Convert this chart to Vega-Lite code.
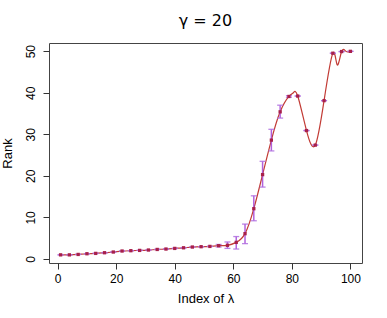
{
  "$schema": "https://vega.github.io/schema/vega-lite/v6.json",
  "width": 313,
  "height": 220,
  "autosize": {"type": "none"},
  "padding": {"left": 49, "top": 43, "right": 25, "bottom": 55},
  "background": "white",
  "config": {
    "font": "Liberation Sans",
    "view": {"stroke": "#444", "strokeWidth": 1},
    "axis": {"grid": false, "domain": false, "tickColor": "#333", "tickSize": 6, "labelFontSize": 12, "labelColor": "#000", "titleFontSize": 13, "titleFontWeight": "normal", "titleColor": "#000", "labelFont": "Liberation Sans", "titleFont": "Liberation Sans"}
  },
  "title": {"text": "γ = 20", "fontSize": 16, "fontWeight": "normal", "font": "DejaVu Sans", "offset": 14, "color": "#000"},
  "datasets": {
    "pts": [
      {"idx": 1, "rank": 1.0, "lo": 1.0, "hi": 1.0},
      {"idx": 4, "rank": 1.0, "lo": 1.0, "hi": 1.0},
      {"idx": 7, "rank": 1.1, "lo": 1.1, "hi": 1.1},
      {"idx": 10, "rank": 1.27, "lo": 1.27, "hi": 1.27},
      {"idx": 13, "rank": 1.35, "lo": 1.35, "hi": 1.35},
      {"idx": 16, "rank": 1.51, "lo": 1.51, "hi": 1.51},
      {"idx": 19, "rank": 1.68, "lo": 1.68, "hi": 1.68},
      {"idx": 22, "rank": 1.92, "lo": 1.92, "hi": 1.92},
      {"idx": 25, "rank": 2.0, "lo": 2.0, "hi": 2.0},
      {"idx": 28, "rank": 2.07, "lo": 2.07, "hi": 2.07},
      {"idx": 31, "rank": 2.16, "lo": 2.16, "hi": 2.16},
      {"idx": 34, "rank": 2.3, "lo": 2.3, "hi": 2.3},
      {"idx": 37, "rank": 2.4, "lo": 2.4, "hi": 2.4},
      {"idx": 40, "rank": 2.55, "lo": 2.55, "hi": 2.55},
      {"idx": 43, "rank": 2.7, "lo": 2.7, "hi": 2.7},
      {"idx": 46, "rank": 2.88, "lo": 2.88, "hi": 2.88},
      {"idx": 49, "rank": 2.96, "lo": 2.96, "hi": 2.96},
      {"idx": 52, "rank": 3.03, "lo": 3.03, "hi": 3.03},
      {"idx": 55, "rank": 3.2, "lo": 2.9, "hi": 3.5},
      {"idx": 58, "rank": 3.3, "lo": 2.55, "hi": 4.1},
      {"idx": 61, "rank": 4.0, "lo": 2.4, "hi": 5.4},
      {"idx": 64, "rank": 6.1, "lo": 3.7, "hi": 8.4},
      {"idx": 67, "rank": 12.1, "lo": 9.2, "hi": 15.2},
      {"idx": 70, "rank": 20.3, "lo": 17.3, "hi": 23.5},
      {"idx": 73, "rank": 28.6, "lo": 26.0, "hi": 31.2},
      {"idx": 76, "rank": 35.4, "lo": 33.9, "hi": 37.0},
      {"idx": 79, "rank": 39.1, "lo": 38.9, "hi": 39.3},
      {"idx": 82, "rank": 39.2, "lo": 39.2, "hi": 39.2},
      {"idx": 85, "rank": 30.9, "lo": 30.9, "hi": 30.9},
      {"idx": 88, "rank": 27.4, "lo": 27.4, "hi": 27.4},
      {"idx": 91, "rank": 38.1, "lo": 38.1, "hi": 38.1},
      {"idx": 94, "rank": 49.5, "lo": 49.5, "hi": 49.5},
      {"idx": 97, "rank": 49.9, "lo": 49.9, "hi": 49.9},
      {"idx": 100, "rank": 49.95, "lo": 49.95, "hi": 49.95}
    ],
    "curve": [
      {"idx": 1, "rank": 1.0},
      {"idx": 4, "rank": 1.0},
      {"idx": 7, "rank": 1.1},
      {"idx": 10, "rank": 1.27},
      {"idx": 13, "rank": 1.35},
      {"idx": 16, "rank": 1.51},
      {"idx": 19, "rank": 1.68},
      {"idx": 22, "rank": 1.92},
      {"idx": 25, "rank": 2.0},
      {"idx": 28, "rank": 2.07},
      {"idx": 31, "rank": 2.16},
      {"idx": 34, "rank": 2.3},
      {"idx": 37, "rank": 2.4},
      {"idx": 40, "rank": 2.55},
      {"idx": 43, "rank": 2.7},
      {"idx": 46, "rank": 2.88},
      {"idx": 49, "rank": 2.96},
      {"idx": 52, "rank": 3.03},
      {"idx": 55, "rank": 3.2},
      {"idx": 58, "rank": 3.3},
      {"idx": 61, "rank": 4.0},
      {"idx": 64, "rank": 6.1},
      {"idx": 67, "rank": 12.1},
      {"idx": 70, "rank": 20.3},
      {"idx": 73, "rank": 28.6},
      {"idx": 76, "rank": 35.4},
      {"idx": 79, "rank": 39.1},
      {"idx": 80.5, "rank": 40.0},
      {"idx": 82, "rank": 39.2},
      {"idx": 85, "rank": 30.9},
      {"idx": 88, "rank": 27.4},
      {"idx": 91, "rank": 38.1},
      {"idx": 94, "rank": 49.5},
      {"idx": 95.5, "rank": 46.7},
      {"idx": 97, "rank": 49.9},
      {"idx": 98.5, "rank": 49.95},
      {"idx": 100, "rank": 49.95}
    ]
  },
  "layer": [
    {
      "data": {"name": "curve"},
      "mark": {"type": "line", "interpolate": "natural", "color": "#C23B35", "strokeWidth": 1.2},
      "encoding": {
        "x": {"field": "idx", "type": "quantitative", "scale": {"domain": [-2.96, 103.96], "nice": false, "zero": false}, "axis": {"values": [0, 20, 40, 60, 80, 100], "title": "Index of  λ", "labelPadding": 4, "titlePadding": 8}},
        "y": {"field": "rank", "type": "quantitative", "scale": {"domain": [-0.96, 51.96], "nice": false, "zero": false}, "axis": {"values": [0, 10, 20, 30, 40, 50], "title": "Rank", "labelAngle": -90, "labelPadding": 6, "titlePadding": 10}}
      }
    },
    {
      "data": {"name": "pts"},
      "mark": {"type": "rule", "color": "#A347D6", "strokeWidth": 1.5, "opacity": 0.85},
      "encoding": {
        "x": {"field": "idx", "type": "quantitative"},
        "y": {"field": "lo", "type": "quantitative"},
        "y2": {"field": "hi"}
      }
    },
    {
      "data": {"name": "pts"},
      "mark": {"type": "tick", "orient": "horizontal", "color": "#B070E0", "size": 6, "thickness": 1.3, "opacity": 0.85},
      "encoding": {
        "x": {"field": "idx", "type": "quantitative"},
        "y": {"field": "lo", "type": "quantitative"}
      }
    },
    {
      "data": {"name": "pts"},
      "mark": {"type": "tick", "orient": "horizontal", "color": "#B070E0", "size": 6, "thickness": 1.3, "opacity": 0.85},
      "encoding": {
        "x": {"field": "idx", "type": "quantitative"},
        "y": {"field": "hi", "type": "quantitative"}
      }
    },
    {
      "data": {"name": "pts"},
      "mark": {"type": "point", "filled": true, "shape": "square", "color": "#A8204A", "size": 11, "opacity": 1},
      "encoding": {
        "x": {"field": "idx", "type": "quantitative"},
        "y": {"field": "rank", "type": "quantitative"}
      }
    }
  ]
}
